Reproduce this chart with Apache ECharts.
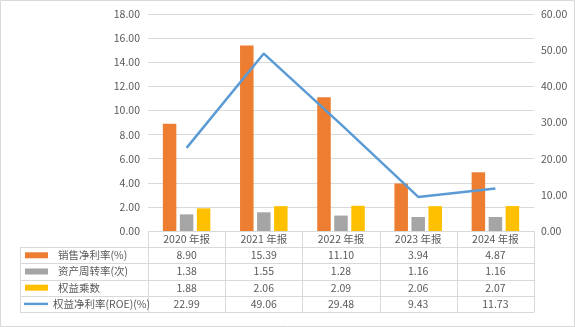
<!DOCTYPE html>
<html>
<head>
<meta charset="utf-8">
<style>
  html, body { margin: 0; padding: 0; background: #fff; }
  #chart { width: 575px; height: 327px; }
</style>
<script src="https://cdn.jsdelivr.net/npm/echarts@6/dist/echarts.min.js"></script>
</head>
<body>
<div id="chart"></div>
<script>
// DuPont breakdown by annual report
const categories = ['2020 年报', '2021 年报', '2022 年报', '2023 年报', '2024 年报'];
const seriesNames = ['销售净利率(%)', '资产周转率(次)', '权益乘数', '权益净利率(ROE)(%)'];
const netMargin = [8.90, 15.39, 11.10, 3.94, 4.87];
const assetTurnover = [1.38, 1.55, 1.28, 1.16, 1.16];
const equityMultiplier = [1.88, 2.06, 2.09, 2.06, 2.07];
const roe = [22.99, 49.06, 29.48, 9.43, 11.73];
const leftAxis = { min: 0, max: 18, interval: 2 };
const rightAxis = { min: 0, max: 60, interval: 10 };

const colors = ['#ED7D31', '#A5A5A5', '#FFC000', '#5B9BD5'];
const FONT = '"Noto Sans CJK SC", "Noto Sans", sans-serif';
const TEXT = '#595959';
const GRIDC = '#D9D9D9';

// Plot area and data-table geometry
const W = 575, H = 327;
const plot = { left: 148, right: 534, top: 14, bottom: 231 };
const rowH = 16.2;
const tableLeft = 20;
const nRows = 4;

const chart = echarts.init(document.getElementById('chart'), null, { renderer: 'canvas' });

const rows = [netMargin, assetTurnover, equityMultiplier, roe];

// Table lines
const graphics = [];
graphics.push({ type: 'rect', shape: { x: 0.5, y: 0.5, width: W - 1, height: H - 1 },
  style: { fill: 'none', stroke: GRIDC, lineWidth: 1 }, silent: true });
const colW = (plot.right - plot.left) / categories.length;
const tableBottom = plot.bottom + rowH * (nRows + 1);
for (let i = 0; i <= categories.length; i++) {
  const x = Math.round(plot.left + colW * i) + 0.5;
  graphics.push({ type: 'line', shape: { x1: x, y1: plot.bottom, x2: x, y2: tableBottom },
    style: { stroke: GRIDC, lineWidth: 1 }, silent: true });
}
for (let r = 1; r <= nRows + 1; r++) {
  const y = Math.round(plot.bottom + rowH * r) + 0.5;
  graphics.push({ type: 'line', shape: { x1: tableLeft, y1: y, x2: plot.right, y2: y },
    style: { stroke: GRIDC, lineWidth: 1 }, silent: true });
}
{
  const y1 = Math.round(plot.bottom + rowH) + 0.5;
  graphics.push({ type: 'line', shape: { x1: tableLeft + 0.5, y1: y1, x2: tableLeft + 0.5, y2: Math.round(tableBottom) + 0.5 },
    style: { stroke: GRIDC, lineWidth: 1 }, silent: true });
}

// One legend per table row, placed in the table's first column
const legends = seriesNames.map((name, i) => {
  const isLine = i === 3;
  return {
    data: [{ name: name, icon: isLine ? 'path://M0,0 L30,0 L30,3 L0,3 Z' : 'rect' }],
    left: isLine ? 24 : 25,
    top: plot.bottom + rowH * (i + 1) + rowH / 2 - 6.5,
    itemWidth: isLine ? 24 : 23,
    itemHeight: isLine ? 3 : 6,
    itemGap: 0,
    padding: 0,
    selectedMode: false,
    textStyle: { color: TEXT, fontFamily: FONT, fontSize: 10.5, lineHeight: 13,
      padding: [0, 0, 0, isLine ? 0 : 5] }
  };
});

const option = {
  animation: false,
  backgroundColor: '#fff',
  color: colors,
  grid: { left: plot.left, right: W - plot.right, top: plot.top, bottom: H - plot.bottom, containLabel: false },
  legend: legends,
  graphic: graphics,
  xAxis: {
    type: 'category',
    data: categories,
    axisLine: { show: true, lineStyle: { color: GRIDC, width: 1 } },
    axisTick: { show: false },
    axisLabel: {
      interval: 0,
      margin: 0,
      color: TEXT,
      fontFamily: FONT,
      fontSize: 10.5,
      lineHeight: rowH,
      formatter: (v, idx) => [v].concat(rows.map(r => r[idx].toFixed(2))).join('\n')
    }
  },
  yAxis: [
    {
      type: 'value', min: leftAxis.min, max: leftAxis.max, interval: leftAxis.interval,
      axisLine: { show: false }, axisTick: { show: false },
      splitLine: { lineStyle: { color: GRIDC, width: 1 } },
      axisLabel: { color: TEXT, fontFamily: FONT, fontSize: 10.5, margin: 8,
        formatter: v => v.toFixed(2) }
    },
    {
      type: 'value', min: rightAxis.min, max: rightAxis.max, interval: rightAxis.interval,
      axisLine: { show: false }, axisTick: { show: false },
      splitLine: { show: false },
      axisLabel: { color: TEXT, fontFamily: FONT, fontSize: 10.5, margin: 7,
        formatter: v => v.toFixed(2) }
    }
  ],
  series: [
    { name: seriesNames[0], type: 'bar', data: netMargin, barWidth: 13.5, barGap: '26%', yAxisIndex: 0 },
    { name: seriesNames[1], type: 'bar', data: assetTurnover, barWidth: 13.5, barGap: '26%', yAxisIndex: 0 },
    { name: seriesNames[2], type: 'bar', data: equityMultiplier, barWidth: 13.5, barGap: '26%', yAxisIndex: 0 },
    { name: seriesNames[3], type: 'line', data: roe, yAxisIndex: 1, symbol: 'none',
      lineStyle: { width: 2.5, color: colors[3] }, z: 5 }
  ]
};

chart.setOption(option);
</script>
</body>
</html>
